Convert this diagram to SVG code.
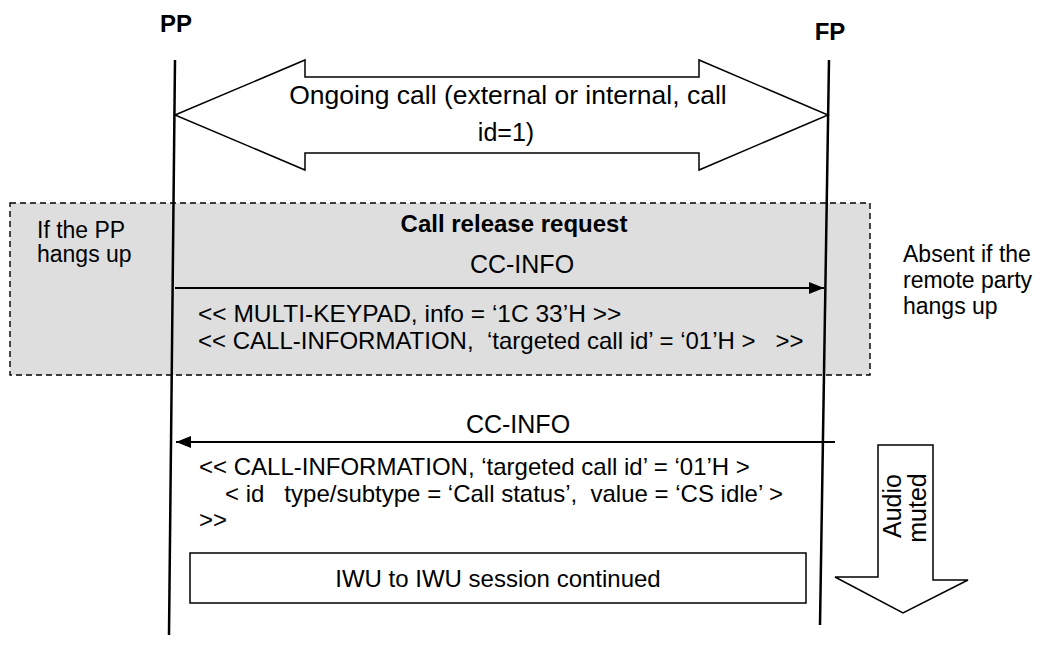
<svg xmlns="http://www.w3.org/2000/svg" width="1042" height="645" viewBox="0 0 1042 645">
<style>
.t{font-family:"Liberation Sans",Arial,sans-serif;fill:#000}
.b{font-weight:bold}
.life{stroke:#000;stroke-width:2.5;fill:none}
.msg{stroke:#000;stroke-width:2;fill:none}
.shape{stroke:#000;stroke-width:1.5;fill:#fff}
</style>
<defs>
<marker id="ah" viewBox="0 0 15 12" refX="15" refY="6" markerWidth="15" markerHeight="12" markerUnits="userSpaceOnUse" orient="auto">
<path d="M0,0 L15,6 L0,12 z" fill="#000"/>
</marker>
</defs>
<rect width="1042" height="645" fill="#fff"/>

<g id="release-frame">
<rect x="10" y="203" width="860" height="172" fill="#dedede" stroke="#000" stroke-width="1.4" stroke-dasharray="6,4"/>
<text class="t" x="37" y="238" font-size="23">If the PP</text>
<text class="t" x="37" y="262" font-size="23">hangs up</text>
<text class="t b" x="514" y="232" font-size="24" text-anchor="middle">Call release request</text>
</g>

<g id="pp">
<text class="t b" x="176" y="32" font-size="24" text-anchor="middle">PP</text>
</g>
<g id="fp">
<text class="t b" x="830" y="40" font-size="24" text-anchor="middle">FP</text>
</g>

<g id="ongoing-call">
<polygon class="shape" points="175,115 305,60 305,77 699,77 699,60 828,115 699,170 699,153 305,153 305,170"/>
<text class="t" x="508" y="104" font-size="26.5" text-anchor="middle">Ongoing call (external or internal, call</text>
<text class="t" x="506" y="141" font-size="25" text-anchor="middle">id=1)</text>
</g>

<g id="absent-note">
<text class="t" x="903" y="262" font-size="23">Absent if the</text>
<text class="t" x="903" y="288" font-size="23">remote party</text>
<text class="t" x="903" y="314" font-size="23">hangs up</text>
</g>

<g id="connectors">
<line class="life" x1="175" y1="60" x2="169" y2="635"/>
<line class="life" x1="829" y1="60" x2="820" y2="625"/>
<line class="msg" x1="175" y1="288" x2="824" y2="288" marker-end="url(#ah)"/>
<line class="msg" x1="835" y1="442" x2="176" y2="442" marker-end="url(#ah)"/>
</g>

<g id="msg1-labels">
<text class="t" x="522" y="273" font-size="25" text-anchor="middle">CC-INFO</text>
<text class="t" x="198" y="322" font-size="24.5">&lt;&lt; MULTI-KEYPAD, info = ‘1C 33’H &gt;&gt;</text>
<text class="t" x="198" y="349" font-size="24" xml:space="preserve">&lt;&lt; CALL-INFORMATION,  ‘targeted call id’ = ‘01’H &gt;   &gt;&gt;</text>
</g>

<g id="msg2-labels">
<text class="t" x="518" y="433" font-size="25" text-anchor="middle">CC-INFO</text>
<text class="t" x="199" y="475" font-size="24">&lt;&lt; CALL-INFORMATION, ‘targeted call id’ = ‘01’H &gt;</text>
<text class="t" x="225" y="502" font-size="24" xml:space="preserve">&lt; id   type/subtype = ‘Call status’,  value = ‘CS idle’ &gt;</text>
<text class="t" x="199" y="528" font-size="24">&gt;&gt;</text>
</g>

<g id="iwu-session">
<rect class="shape" x="190" y="553" width="616" height="50"/>
<text class="t" x="498" y="587" font-size="24" text-anchor="middle">IWU to IWU session continued</text>
</g>

<g id="audio-muted">
<polygon class="shape" points="878,445 933,445 933,580 968,580 903,613 835,577 878,577"/>
<text class="t" x="0" y="0" font-size="25" text-anchor="middle" transform="translate(901,506) rotate(-90)">Audio</text>
<text class="t" x="0" y="0" font-size="25" text-anchor="middle" transform="translate(926,508) rotate(-90)">muted</text>
</g>
</svg>
